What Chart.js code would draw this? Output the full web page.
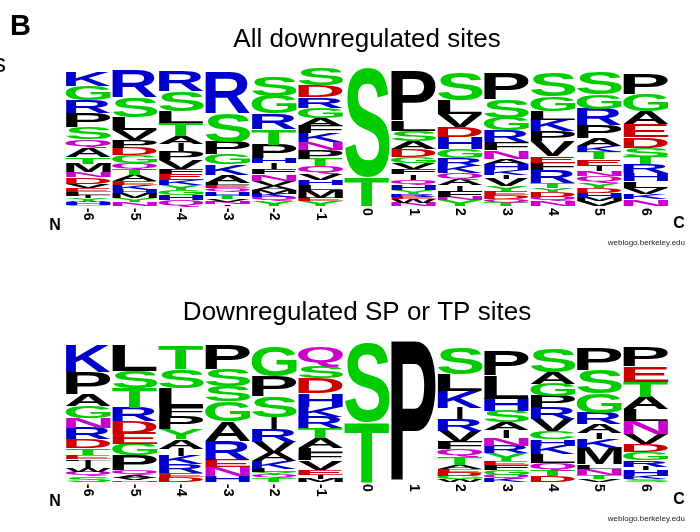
<!DOCTYPE html>
<html>
<head>
<meta charset="utf-8">
<script src="https://cdn.jsdelivr.net/npm/chart.js@4.4.1/dist/chart.umd.min.js"></script>
<style>
    html, body { margin: 0; padding: 0; background: #fff; }
    #wrap { position: relative; width: 700px; height: 532px; overflow: hidden; }
    canvas { position: absolute; left: 0; }
</style>
</head>
<body>
<div id="wrap">
    <canvas id="logoAll" width="700" height="266" style="top:0"></canvas>
    <canvas id="logoSPTP" width="700" height="266" style="top:266px"></canvas>
</div>
<script>
// Sequence positions (x categories)
const positions = ["-6", "-5", "-4", "-3", "-2", "-1", "0", "1", "2", "3", "4", "5", "6"];

// "All downregulated sites": letters per position, listed top to bottom
const allLetters = [
    "KGRPSQATMNDVELFIYWHC",
    "RSLVPDGQTAEKHMYN",
    "RSLTAIPVFEKYGHQ",
    "RSPGKALEQHTVNI",
    "SGRTPHIFNVAMKQY",
    "SDRGAFKNPTQVHLMEY",
    "ST",
    "PLSADGVFIQHYREWN",
    "SLVDHGRKQAIFNY",
    "PSGRFNAHKIVYEDQT",
    "SGLKPVEFRTYDQN",
    "SGRPAKTEINQYDHMV",
    "PGAEDSTRHLVKN"
];
// letter heights, same order (logo height units)
const allHeights = [
    [14.7, 13.7, 13, 14.3, 12.3, 8.7, 9, 6.3, 8.7, 5, 6.7, 4.3, 3.3, 3, 1.5, 2, 2.5, 1.5, 2.5, 1.5],
    [27.3, 20, 13.3, 10, 7.7, 7.3, 7.3, 6.7, 6, 6, 3.3, 5, 3.3, 4.7, 4.3, 4],
    [20.7, 20, 11.7, 13.3, 7.7, 7.3, 9.3, 8.3, 5.7, 6, 5, 5, 4.7, 5.3, 5.7],
    [40.7, 29.3, 12.3, 10, 10.7, 7.7, 2.7, 3, 3.3, 4.3, 3.3, 3, 2, 1.7],
    [20, 17.7, 15.7, 15.3, 14, 4.7, 6, 5, 6.7, 5, 4, 3.7, 3.3, 4.3, 4.7],
    [16.7, 11.7, 10.7, 10, 7.7, 8, 8.7, 7.3, 9.3, 7.3, 7.7, 6.3, 5.3, 5, 7.3, 3.3, 5],
    [109, 28.3],
    [49, 10.3, 10, 8, 7.7, 6, 6.7, 5, 5.7, 5, 5, 4.3, 2.3, 2.7, 3.3, 3.3],
    [27.3, 14, 12.7, 10.7, 12, 9, 7.7, 7.3, 6, 6, 5.3, 6, 3.3, 6],
    [25.7, 18.3, 12.7, 11.7, 8.3, 8.3, 4.7, 6, 5, 4.3, 7.3, 5, 4, 4.3, 3.3, 3.3],
    [24, 15, 9, 11, 10, 15, 6.7, 7.7, 12.3, 5, 4.3, 5, 4, 5],
    [22.3, 15, 16, 12.3, 8.3, 6, 7.3, 6.7, 5, 5, 6.7, 5, 5, 5, 3.3, 5],
    [20.7, 16.7, 12.7, 13.3, 10.7, 9.3, 7.3, 8.3, 8.3, 6.7, 6.7, 5, 6.7]
];

// "Downregulated SP or TP sites"
const sptpLetters = [
    "KPAGNRDTEFIWQS",
    "LSTRDEGPQAVN",
    "TSLFPYAIKRED",
    "PSSGARENH",
    "GPSIRVAKLYQT",
    "QSDHKRTALFVEIM",
    "ST",
    "P",
    "SLKIRVFQTAEDGW",
    "PLHSAINRYEFGQK",
    "SAGPRVCHKLQTD",
    "PSGRAIKMLNTV",
    "PETALNVDGRIHKS"
];
const sptpHeights = [
    [26.7, 21.7, 11.7, 11.7, 10, 11, 9, 6.7, 4, 1.7, 7.3, 4, 4.3, 5.7],
    [25, 16.7, 20, 13.3, 11, 11.7, 11, 15, 5, 2.7, 2, 1.7],
    [23.3, 18.3, 19.3, 9, 12.7, 10, 9.3, 7.3, 8.3, 8.3, 4.3, 5],
    [25, 16.7, 15, 20, 19, 19.3, 7.3, 8.7, 5.7],
    [30, 20, 20.7, 11.7, 12.3, 11, 8.3, 7.3, 3.3, 2.7, 3.3, 4],
    [19, 12, 14.7, 13.3, 10, 11.3, 10, 10, 4, 7.7, 9.3, 5, 4, 3.3],
    [79, 59],
    [139],
    [25.7, 16.7, 16.7, 11, 11.7, 10.7, 7.3, 8, 7.3, 4, 4, 3.3, 3.3, 2.7],
    [25, 23, 12.3, 11, 8, 7.7, 7.7, 7.7, 7, 4, 5, 5, 4, 3.3],
    [24, 11.7, 12.3, 11, 11, 12.3, 8.3, 6.7, 8.3, 8.3, 7.7, 5.7, 5.7],
    [21.7, 23.3, 20, 10.7, 8.7, 6, 9, 16, 4, 6.7, 4, 2.7],
    [19, 15, 15, 12.3, 11.7, 12.7, 10, 7.7, 8.3, 6.7, 3.3, 5.7, 3.3, 2.7]
];

const letterColors = {
    G: "#00cc00", S: "#00cc00", T: "#00cc00", Y: "#00cc00", C: "#00cc00",
    N: "#cc00cc", Q: "#cc00cc",
    K: "#0000cc", R: "#0000cc", H: "#0000cc",
    D: "#cc0000", E: "#cc0000"
};
const FONT = '"Liberation Sans", Arial, Helvetica, sans-serif';
const LOGO_MAX = 138;

// one stacked dataset per rank, bottom letter first
function buildDatasets(letters, heights) {
    const depth = Math.max(...letters.map(s => s.length));
    const sets = [];
    for (let r = 0; r < depth; r++) {
        const data = [];
        const marks = [];
        letters.forEach((col, i) => {
            const k = col.length - 1 - r;
            data.push(k >= 0 ? heights[i][k] : 0);
            marks.push(k >= 0 ? col[k] : "");
        });
        sets.push({
            data,
            letters: marks,
            backgroundColor: "rgba(0,0,0,0)",
            borderWidth: 0,
            barPercentage: 0.97,
            categoryPercentage: 1
        });
    }
    return sets;
}

const glyphCache = {};
function glyphBox(ctx, ch) {
    if (!glyphCache[ch]) {
        ctx.save();
        ctx.font = "bold 100px " + FONT;
        const m = ctx.measureText(ch);
        glyphCache[ch] = {
            l: m.actualBoundingBoxLeft,
            a: m.actualBoundingBoxAscent,
            w: m.actualBoundingBoxLeft + m.actualBoundingBoxRight,
            h: m.actualBoundingBoxAscent + m.actualBoundingBoxDescent
        };
        ctx.restore();
    }
    return glyphCache[ch];
}

// draws each bar segment as a stretched letter
const letterPlugin = {
    id: "letters",
    afterDatasetsDraw(chart) {
        const ctx = chart.ctx;
        chart.data.datasets.forEach((ds, d) => {
            chart.getDatasetMeta(d).data.forEach((bar, i) => {
                const ch = ds.letters[i];
                const { x, y, base, width } = bar.getProps(["x", "y", "base", "width"], true);
                const h = base - y;
                if (!ch || h <= 0.05) return;
                const g = glyphBox(ctx, ch);
                let w = width;
                if (ch === "I") w = width * 0.13;
                ctx.save();
                ctx.font = "bold 100px " + FONT;
                ctx.fillStyle = letterColors[ch] || "#000";
                ctx.translate(x - w / 2, y);
                ctx.scale(w / g.w, h / g.h);
                ctx.fillText(ch, g.l, g.a);
                ctx.restore();
            });
        });
    }
};

// titles, position numbers, N / C ends and extra text
function decorPlugin(cfg) {
    return {
        id: "decor",
        afterDraw(chart) {
            const ctx = chart.ctx;
            const area = chart.chartArea;
            const xs = chart.scales.x;
            ctx.save();
            ctx.fillStyle = "#000";
            ctx.textBaseline = "alphabetic";
            ctx.textAlign = "center";
            ctx.font = "26px " + FONT;
            ctx.fillText(cfg.title, cfg.titleX, cfg.titleY);

            ctx.font = "bold 14px " + FONT;
            ctx.textAlign = "left";
            ctx.textBaseline = "middle";
            positions.forEach((p, i) => {
                ctx.save();
                ctx.translate(xs.getPixelForValue(i), area.bottom + 2);
                ctx.rotate(Math.PI / 2);
                ctx.fillText(p, 0, 0);
                ctx.restore();
            });

            ctx.textAlign = "center";
            ctx.font = "bold 16px " + FONT;
            ctx.fillText("N", 55, area.bottom + 20);
            ctx.fillText("C", 679, area.bottom + 18);

            ctx.textAlign = "right";
            ctx.textBaseline = "alphabetic";
            ctx.font = "8px " + FONT;
            ctx.fillStyle = "#222";
            ctx.fillText("weblogo.berkeley.edu", 685, area.bottom + 39);

            if (cfg.panel) {
                ctx.fillStyle = "#000";
                ctx.textAlign = "left";
                ctx.font = "bold 29px " + FONT;
                ctx.fillText(cfg.panel, 10, 35);
                ctx.font = "26px " + FONT;
                ctx.fillText("s", -7, 72);
            }
            ctx.restore();
        }
    };
}

function makeLogo(canvasId, letters, heights, pad, cfg) {
    const ctx = document.getElementById(canvasId).getContext("2d");
    return new Chart(ctx, {
        type: "bar",
        data: { labels: positions, datasets: buildDatasets(letters, heights) },
        options: {
            responsive: false,
            animation: false,
            layout: { padding: pad },
            plugins: { legend: { display: false }, tooltip: { enabled: false } },
            scales: {
                x: { stacked: true, display: false },
                y: { stacked: true, display: false, min: 0, max: LOGO_MAX }
            }
        },
        plugins: [letterPlugin, decorPlugin(cfg)]
    });
}

makeLogo("logoAll", allLetters, allHeights,
    { left: 65, right: 31, top: 68, bottom: 60 },
    { title: "All downregulated sites", titleX: 367, titleY: 47, panel: "B" });

makeLogo("logoSPTP", sptpLetters, sptpHeights,
    { left: 65, right: 31, top: 77, bottom: 50 },
    { title: "Downregulated SP or TP sites", titleX: 357, titleY: 54 });
</script>
</body>
</html>
